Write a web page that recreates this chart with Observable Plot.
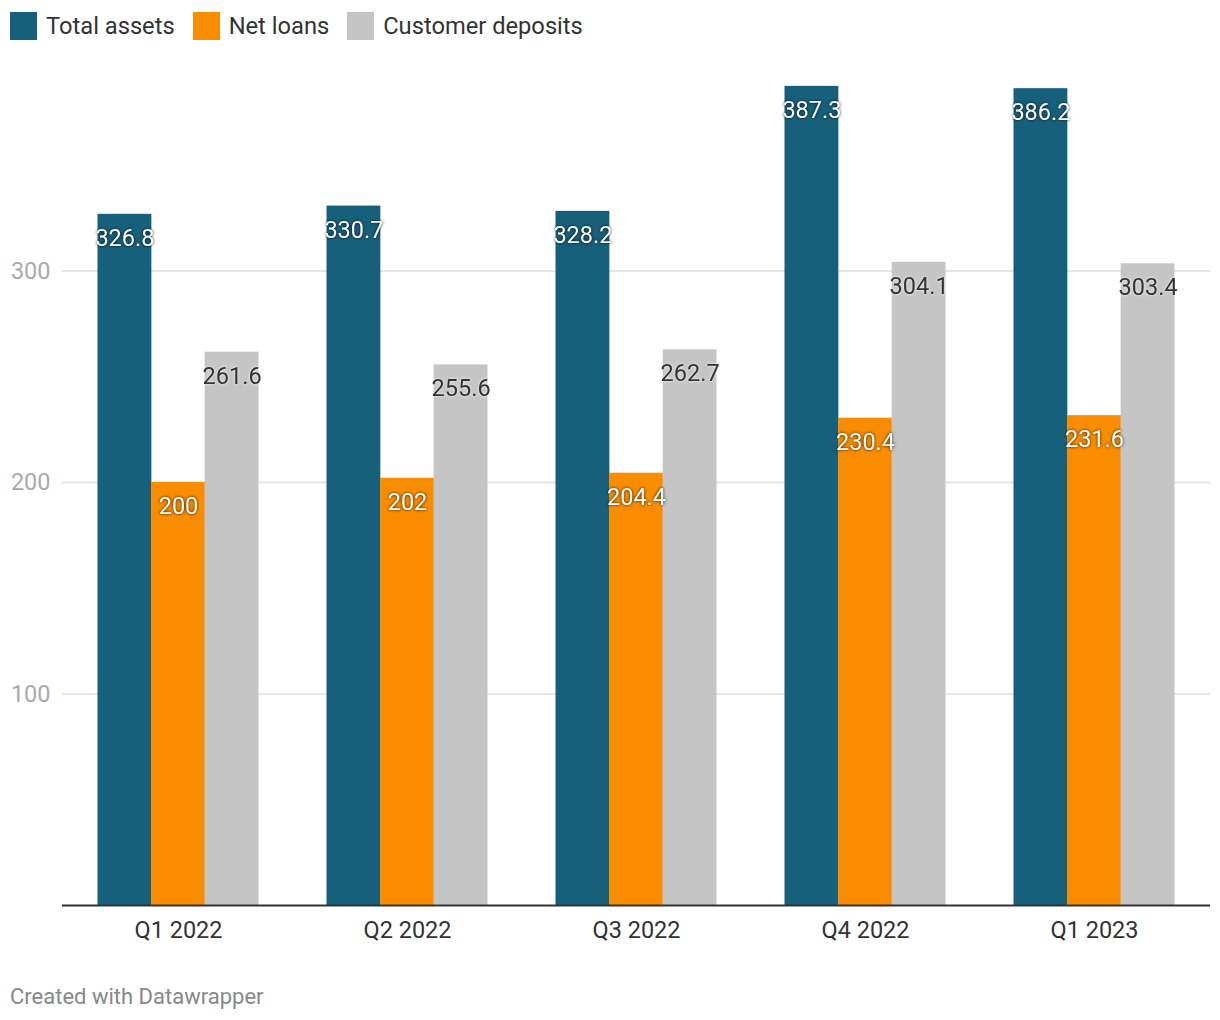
<!DOCTYPE html>
<html>
<head>
<meta charset="utf-8">
<script src="https://cdn.jsdelivr.net/npm/d3@7"></script>
<script src="https://cdn.jsdelivr.net/npm/@observablehq/plot@0.6"></script>
<style>
  html, body { margin: 0; padding: 0; background: #fff; }
  body { width: 1220px; font-family: Roboto, "Noto Sans", sans-serif; }
  #legend { height: 52px; display: flex; align-items: center; padding-left: 10px; box-sizing: border-box; }
  .item { display: flex; align-items: center; margin-right: 18px; font-size: 23.7px; color: #333; }
  .sw { width: 27px; height: 28px; margin-right: 9px; }
  #chart svg { display: block; }
  #footer { font-size: 22px; color: #888; margin-top: 13px; padding-left: 10px; line-height: 24px; }
  .lbl-shadow { filter: drop-shadow(0 0 1.5px rgba(0,0,0,0.85)); }
  .lbl-glow { filter: drop-shadow(0 0 1.5px rgba(255,255,255,1)); }
</style>
</head>
<body>
<div id="legend"></div>
<div id="chart"></div>
<div id="footer">Created with Datawrapper</div>
<script>
const quarters = ["Q1 2022", "Q2 2022", "Q3 2022", "Q4 2022", "Q1 2023"];
const seriesNames = ["Total assets", "Net loans", "Customer deposits"];
const totalAssets = [326.8, 330.7, 328.2, 387.3, 386.2];
const netLoans = [200, 202, 204.4, 230.4, 231.6];
const customerDeposits = [261.6, 255.6, 262.7, 304.1, 303.4];
const seriesColors = ["#17607b", "#fa8c00", "#c5c5c5"];
const yTicks = [100, 200, 300];

const seriesValues = [totalAssets, netLoans, customerDeposits];

// Legend
const legend = d3.select("#legend");
seriesNames.forEach((s, j) => {
  const it = legend.append("div").attr("class", "item");
  it.append("div").attr("class", "sw").style("background", seriesColors[j]);
  it.append("span").text(s);
});

const W = 1220, H = 920, mL = 62, mR = 10, mT = 7, mB = 67;
const xOpts = {domain: quarters, paddingInner: 0.3, paddingOuter: 0.15};
const xs = Plot.scale({x: {...xOpts, type: "band", range: [mL, W - mR]}});
const third = xs.bandwidth / 3;

const marks = [
  Plot.ruleY(yTicks, {stroke: "#e6e6e6", strokeWidth: 2}),
  Plot.axisY(yTicks, {anchor: "left", tickSize: 0, tickPadding: 12, fill: "#aaa", label: null, fontSize: 23.5}),
  Plot.axisX({anchor: "bottom", tickSize: 0, tickPadding: 16, fill: "#333", label: null, fontSize: 23.5})
];
seriesNames.forEach((s, j) => {
  const rows = quarters.map((q, i) => ({quarter: q, series: s, value: seriesValues[j][i]}));
  marks.push(Plot.barY(rows, {
    x: "quarter", y: "value", fill: seriesColors[j],
    insetLeft: j * third - 0.5, insetRight: (2 - j) * third - 0.5
  }));
});
marks.push(Plot.ruleY([0], {stroke: "#333", strokeWidth: 2}));
seriesNames.forEach((s, j) => {
  const rows = quarters.map((q, i) => ({quarter: q, series: s, value: seriesValues[j][i]}));
  const dark = j === 2;
  marks.push(Plot.text(rows, {
    x: "quarter", y: "value", text: d => String(d.value),
    dx: (j - 1) * third, dy: 24,
    fill: dark ? "#333" : "#fff", fontSize: 23.5,
    className: dark ? "lbl-glow" : "lbl-shadow"
  }));
});

const chart = Plot.plot({
  width: W, height: H,
  marginLeft: mL, marginRight: mR, marginTop: mT, marginBottom: mB,
  style: {fontFamily: "Roboto, sans-serif", fontSize: "23.5px", background: "#fff"},
  x: {...xOpts, axis: null},
  y: {domain: [0, 400], axis: null},
  marks
});
document.getElementById("chart").appendChild(chart);
</script>
</body>
</html>
